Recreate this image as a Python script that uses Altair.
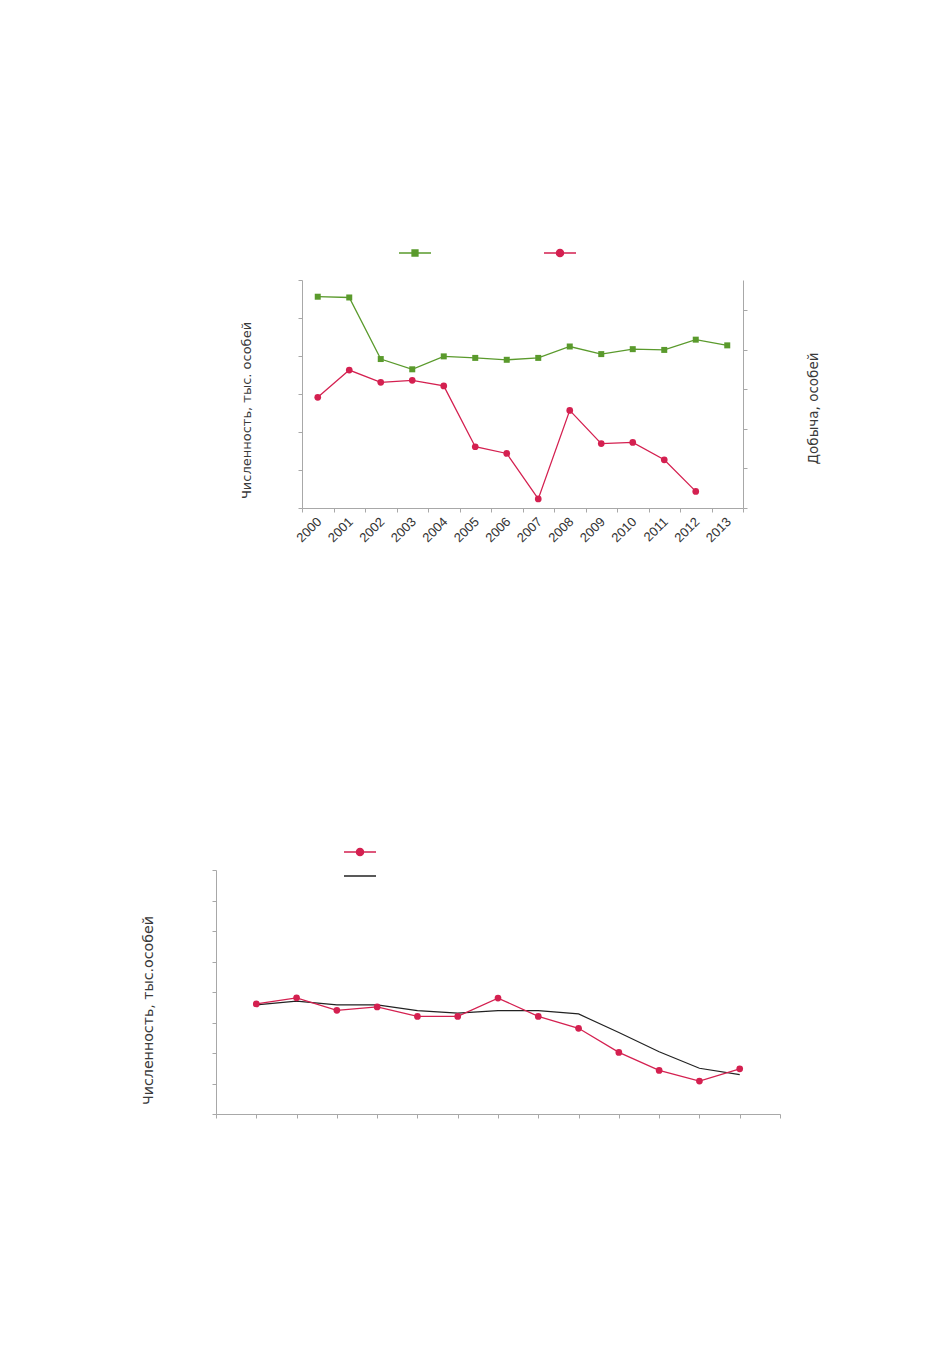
import altair as alt
import pandas as pd

# ---- data (axes carry no numeric labels) ----
years_top = [2000, 2001, 2002, 2003, 2004, 2005, 2006, 2007, 2008, 2009, 2010, 2011, 2012, 2013]
chislennost_top = [5.56, 5.54, 3.92, 3.65, 3.99, 3.95, 3.90, 3.95, 4.25, 4.05, 4.18, 4.16, 4.43, 4.28]
years_dobycha = [2000, 2001, 2002, 2003, 2004, 2005, 2006, 2007, 2008, 2009, 2010, 2011, 2012]
dobycha = [2.80, 3.49, 3.18, 3.23, 3.09, 1.55, 1.38, 0.23, 2.47, 1.63, 1.66, 1.22, 0.42]

years_bottom = [2001, 2002, 2003, 2004, 2005, 2006, 2007, 2008, 2009, 2010, 2011, 2012, 2013]
chislennost_bottom = [3.61, 3.81, 3.40, 3.51, 3.20, 3.20, 3.80, 3.20, 2.81, 2.02, 1.43, 1.08, 1.48]
trend_bottom = [3.58, 3.70, 3.58, 3.58, 3.39, 3.31, 3.39, 3.39, 3.28, 2.67, 2.04, 1.50, 1.29]

left_ticks_top = [0, 1, 2, 3, 4, 5, 6]
right_ticks_top = [0, 1, 2, 3, 4, 5]
left_ticks_bottom = [0, 1, 2, 3, 4, 5, 6, 7, 8]
x_ticks_bottom = list(range(2000, 2015))

FONT = "Liberation Sans"
TITLE_FONT = "DejaVu Sans"
GREEN = "#5a9a2c"
RED = "#d42050"
BLACK = "#222222"
AXIS_GRAY = "#a8a8a8"
TEXT = "#333333"
TITLE_TEXT = "#3a3a3a"

SQUARE_LINE = "M-1,0H1M-0.18,-0.18H0.18V0.18H-0.18Z"
CIRCLE_LINE = "M-1,0H1M0.22,0A0.22,0.22,0,1,1,-0.22,0A0.22,0.22,0,1,1,0.22,0Z"
PLAIN_LINE = "M-1,0H1"


def legend(path, color, lx, ly):
    return alt.Legend(
        title=None, orient="none", legendX=lx, legendY=ly,
        symbolType=path, symbolSize=1024, symbolStrokeWidth=1.5,
        symbolFillColor=color, symbolStrokeColor=color,
        labelExpr="''", labelOffset=0, padding=0,
    )


df_g = pd.DataFrame({"Год": years_top, "Значение": chislennost_top, "Ряд": "Численность"})
df_r = pd.DataFrame({"Год": years_dobycha, "Значение": dobycha, "Ряд": "Добыча"})

x_top = alt.X(
    "Год:O",
    scale=alt.Scale(type="band", domain=years_top, paddingInner=0, paddingOuter=0),
    axis=alt.Axis(title=None, tickBand="extent", labelAngle=315, labelAlign="right",
                  labelBaseline="top", labelPadding=3, labelOffset=-3, labelFontSize=13,
                  labelColor=TEXT, tickSize=4, labelOverlap=False),
)

green = alt.Chart(df_g).mark_line(
    strokeWidth=1.3,
    point=alt.OverlayMarkDef(shape="square", size=36, filled=True, color=GREEN),
).encode(
    x=x_top,
    y=alt.Y("Значение:Q", scale=alt.Scale(domain=[0, 6], nice=False),
            axis=alt.Axis(title="Численность, тыс. особей", orient="left",
                          values=left_ticks_top, labels=False, tickSize=4,
                          titleAngle=270, titleBaseline="bottom", titleAlign="center",
                          titleX=-49, titleY=130, titleFontSize=13)),
    color=alt.Color("Ряд:N", scale=alt.Scale(domain=["Численность"], range=[GREEN]),
                    legend=legend(SQUARE_LINE, GREEN, 96, -44)),
)

red = alt.Chart(df_r).mark_line(
    strokeWidth=1.3,
    point=alt.OverlayMarkDef(shape="circle", size=45, filled=True, color=RED),
).encode(
    x=x_top,
    y=alt.Y("Значение:Q", scale=alt.Scale(domain=[0, 5.77], nice=False),
            axis=alt.Axis(title="Добыча, особей", orient="right",
                          values=right_ticks_top, labels=False, tickSize=4,
                          titleAngle=270, titleBaseline="top", titleAlign="center",
                          titleX=63, titleY=128, titleFontSize=13.5)),
    color=alt.Color("Ряд:N", scale=alt.Scale(domain=["Добыча"], range=[RED]),
                    legend=legend(CIRCLE_LINE, RED, 241, -44)),
)

top = alt.layer(green, red).resolve_scale(y="independent", color="independent").properties(
    width=441, height=228
)

df_b1 = pd.DataFrame({"Год": years_bottom, "Значение": chislennost_bottom, "Ряд": "Численность"})
df_b2 = pd.DataFrame({"Год": years_bottom, "Значение": trend_bottom, "Ряд": "Тренд"})

x_bot = alt.X("Год:Q", scale=alt.Scale(domain=[2000, 2014], nice=False, zero=False),
              axis=alt.Axis(title=None, values=x_ticks_bottom, labels=False, tickSize=4))
y_bot = alt.Y("Значение:Q", scale=alt.Scale(domain=[0, 8], nice=False),
              axis=alt.Axis(title="Численность, тыс.особей", values=left_ticks_bottom,
                            labels=False, tickSize=4, titleAngle=270, titleBaseline="bottom",
                            titleAlign="center", titleX=-61, titleY=140, titleFontSize=14.2))

b_red = alt.Chart(df_b1).mark_line(
    strokeWidth=1.3,
    point=alt.OverlayMarkDef(shape="circle", size=45, filled=True, color=RED),
).encode(
    x=x_bot, y=y_bot,
    color=alt.Color("Ряд:N", scale=alt.Scale(domain=["Численность"], range=[RED]),
                    legend=legend(CIRCLE_LINE, RED, 127, -35)),
)

b_black = alt.Chart(df_b2).mark_line(strokeWidth=1.2).encode(
    x=x_bot, y=y_bot,
    color=alt.Color("Ряд:N", scale=alt.Scale(domain=["Тренд"], range=[BLACK]),
                    legend=legend(PLAIN_LINE, BLACK, 127, -11)),
)

bottom = alt.layer(b_black, b_red).resolve_scale(color="independent").properties(
    width=564, height=244
)

spacer = alt.Chart(pd.DataFrame({"v": [0]})).mark_point(opacity=0).properties(width=23, height=1)

chart = alt.vconcat(
    alt.hconcat(spacer, top, spacing=0),
    bottom,
    spacing=290,
).properties(
    padding={"left": 133, "top": 228, "right": 5, "bottom": 5}
).configure_view(stroke=None).configure_axis(
    domainColor=AXIS_GRAY, tickColor=AXIS_GRAY, grid=False,
    titleFont=TITLE_FONT, titleFontWeight="normal", titleColor=TITLE_TEXT,
    labelFont=FONT,
).configure_legend(labelFont=FONT)

chart.save("out.html", embed_options={"renderer": "svg", "actions": False})
